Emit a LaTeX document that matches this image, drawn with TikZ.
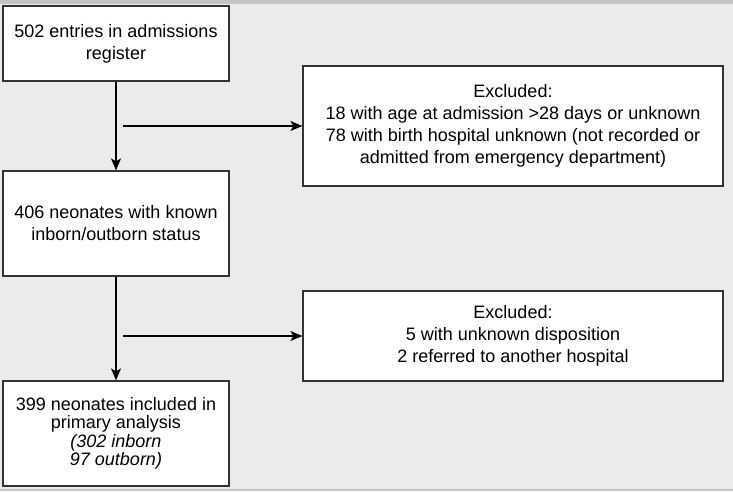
\documentclass[tikz,border=0pt]{standalone}
\usepackage{fontspec}
\setmainfont{Liberation Sans}
\usetikzlibrary{arrows.meta}
\definecolor{bgcol}{HTML}{EBEBEB}
\definecolor{bandcol}{HTML}{C4C4C4}
\definecolor{boxcol}{HTML}{333333}
\tikzset{
  x=1pt, y=-1pt,
  flowbox/.style={draw=boxcol, fill=white, line width=1.2pt, inner sep=0pt,
    align=center, font=\fontsize{18}{22}\selectfont},
  flowarrow/.style={draw=black, line width=1.4pt,
    -{Stealth[length=12pt,width=10pt,inset=3pt]}}
}
\begin{document}
\begin{tikzpicture}
\useasboundingbox (0,0) rectangle (733,491);
\fill[bgcol] (0,0) rectangle (733,491);
\fill[bandcol] (0,0) rectangle (733,4);
\fill[bandcol] (0,489) rectangle (733,491);

\node[flowbox, minimum width=226pt, minimum height=75pt] (b1) at (116,43.5)
  {502 entries in admissions\\register};
\node[flowbox, minimum width=226pt, minimum height=105pt] (b3) at (116,223.5)
  {406 neonates with known\\inborn/outborn status};
\node[flowbox, minimum width=226pt, minimum height=105pt,
  font=\fontsize{18}{18.5}\selectfont] (b5) at (116,433.5)
  {399 neonates included in\\primary analysis\\\textit{(302 inborn}\\\textit{97 outborn)}};
\node[flowbox, minimum width=420pt, minimum height=120pt] (b2) at (513,126)
  {Excluded:\\18 with age at admission >28 days or unknown\\78 with birth hospital unknown (not recorded or\\admitted from emergency department)};
\node[flowbox, minimum width=420pt, minimum height=90pt] (b4) at (513,336)
  {Excluded:\\5 with unknown disposition\\2 referred to another hospital};

\coordinate (h1) at (123,126);
\coordinate (h2) at (123,336);

\draw[flowarrow] (b1.south) -- (b3.north);
\draw[flowarrow] (b3.south) -- (b5.north);
\draw[flowarrow] (h1) -- (b2.west);
\draw[flowarrow] (h2) -- (b4.west);
\end{tikzpicture}
\end{document}
